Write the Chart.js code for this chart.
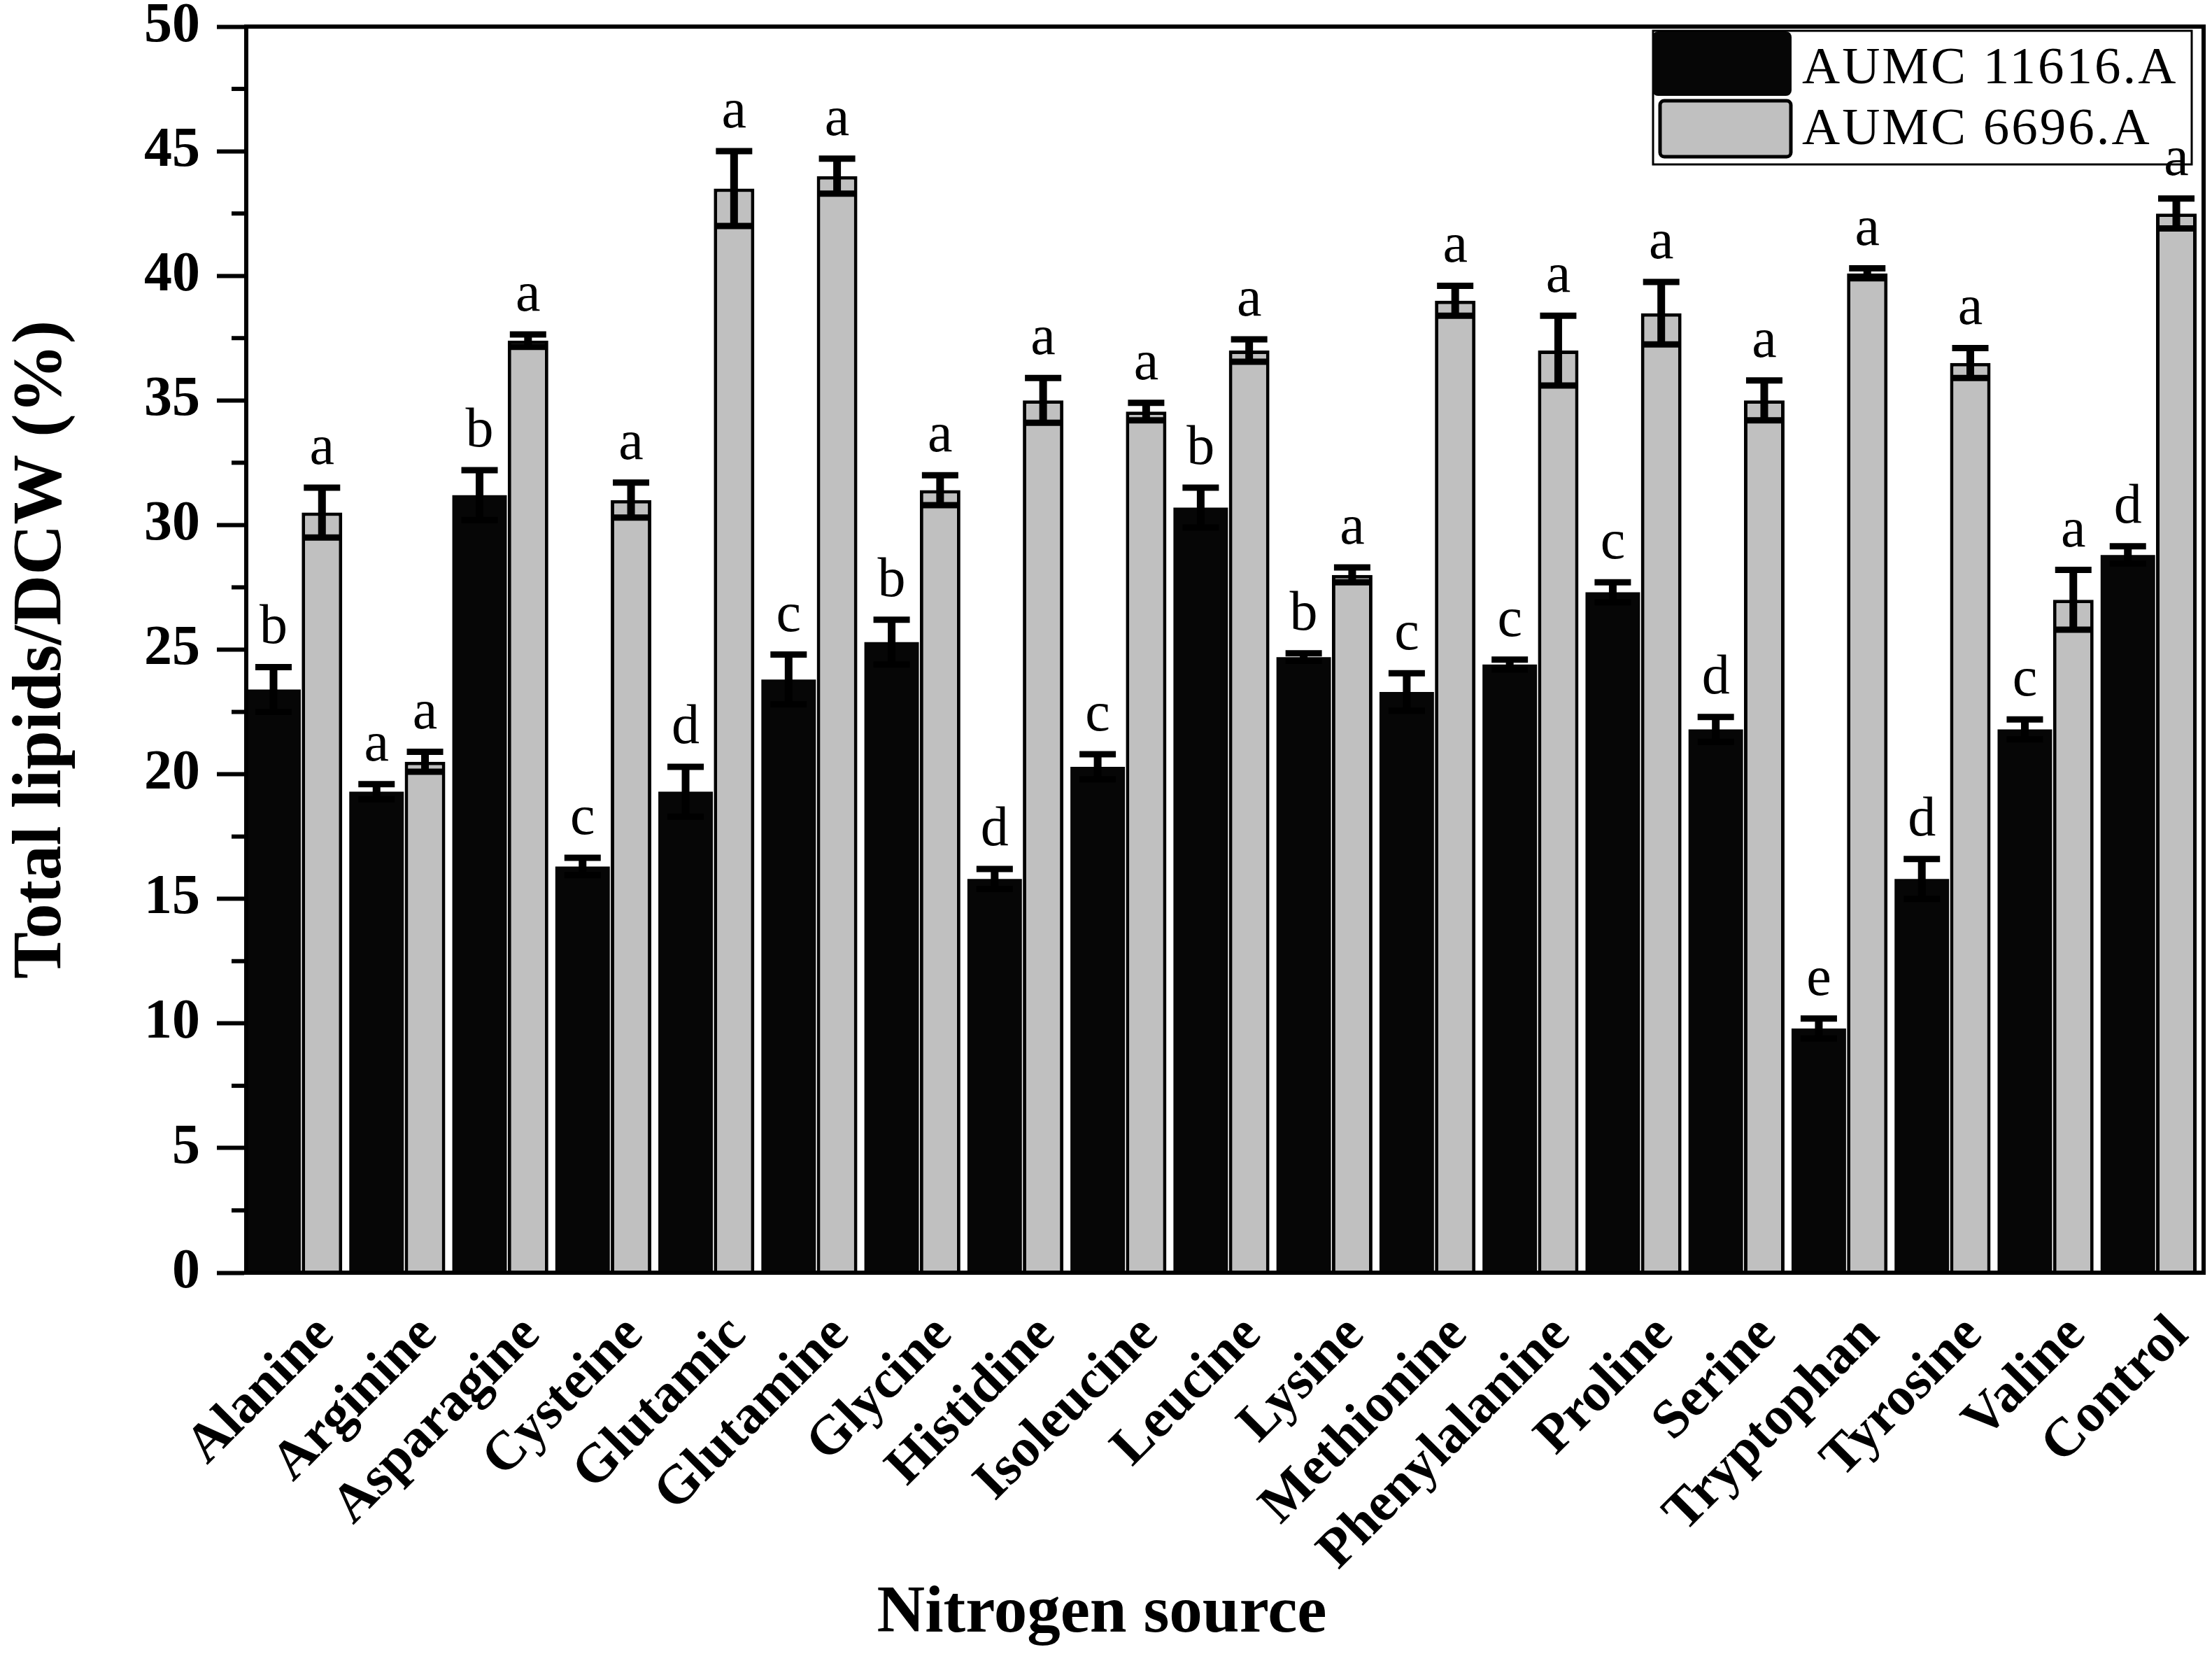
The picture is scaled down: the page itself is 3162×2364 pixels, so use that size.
<!DOCTYPE html>
<html>
<head>
<meta charset="utf-8">
<script src="https://cdn.jsdelivr.net/npm/chart.js@4.4.1/dist/chart.umd.min.js"></script>
<style>
html,body{margin:0;padding:0;background:#fff;}
#wrap{width:3162px;height:2364px;position:relative;}
canvas{display:block;}
</style>
</head>
<body>
<div id="wrap"><canvas id="c" width="3162" height="2364"></canvas></div>
<script>
// ---- data ----
const categories = ['Alanine','Arginine','Asparagine','Cysteine','Glutamic','Glutamine','Glycine','Histidine','Isoleucine','Leucine','Lysine','Methionine','Phenylalanine','Proline','Serine','Tryptophan','Tyrosine','Valine','Control'];
const seriesNames = ['AUMC 11616.A','AUMC 6696.A'];
const strain11616 = [23.4, 19.3, 31.2, 16.3, 19.3, 23.8, 25.3, 15.8, 20.3, 30.7, 24.7, 23.3, 24.4, 27.3, 21.8, 9.8, 15.8, 21.8, 28.8];
const strain11616Err = [0.9, 0.3, 1.0, 0.35, 1.0, 1.0, 0.9, 0.4, 0.5, 0.8, 0.15, 0.75, 0.2, 0.4, 0.5, 0.4, 0.8, 0.4, 0.35];
const strain11616Letters = ['b','a','b','c','d','c','b','d','c','b','b','c','c','c','d','e','d','c','d'];
const strain6696 = [30.5, 20.5, 37.4, 31.0, 43.5, 44.0, 31.4, 35.0, 34.55, 37.0, 28.0, 39.0, 37.0, 38.5, 35.0, 40.1, 36.5, 27.0, 42.5];
const strain6696Err = [1.0, 0.4, 0.25, 0.7, 1.5, 0.7, 0.6, 0.9, 0.35, 0.45, 0.3, 0.6, 1.4, 1.25, 0.8, 0.2, 0.6, 1.2, 0.6];
const strain6696Letters = ['a','a','a','a','a','a','a','a','a','a','a','a','a','a','a','a','a','a','a'];
const yMin = 0, yMax = 50, yStep = 5, yMinorStep = 2.5;
const xTitle = 'Nitrogen source';
const yTitle = 'Total lipids/DCW (%)';

const errs = [strain11616Err, strain6696Err];
const letters = [strain11616Letters, strain6696Letters];

const SERIF = '"Liberation Serif", "Times New Roman", serif';
const TITLE_H = 95 * 1.2;

const framePlugin = {
  id: 'frame',
  afterDraw(chart) {
    const {ctx, chartArea: a, scales} = chart;
    const y = scales.y;
    ctx.save();
    ctx.strokeStyle = '#000';
    ctx.lineWidth = 6;
    for (let v = yMin + yMinorStep; v < yMax; v += yStep) {
      const py = y.getPixelForValue(v);
      ctx.beginPath(); ctx.moveTo(a.left - 21, py); ctx.lineTo(a.left, py); ctx.stroke();
    }
    ctx.strokeRect(a.left, a.top, a.right - a.left, a.bottom - a.top);
    ctx.restore();
  }
};

const legendPlugin = {
  id: 'boxLegend',
  afterDatasetsDraw(chart) {
    const {ctx, chartArea: a} = chart;
    const lx = a.right - 787, ly = a.top + 6, w = 770, h = 191;
    ctx.save();
    ctx.fillStyle = '#fff';
    ctx.fillRect(lx, ly, w, h);
    ctx.strokeStyle = '#000';
    ctx.lineWidth = 3;
    ctx.strokeRect(lx, ly, w, h);
    ctx.fillStyle = '#060606';
    ctx.beginPath();
    ctx.roundRect(lx - 1, ly + 1, 199, 92, 8);
    ctx.fill();
    ctx.fillStyle = '#c0c0c0';
    ctx.beginPath();
    ctx.roundRect(lx + 10, ly + 100, 187, 80, 6);
    ctx.fill();
    ctx.lineWidth = 5;
    ctx.stroke();
    ctx.fillStyle = '#000';
    ctx.font = '75px ' + SERIF;
    ctx.textAlign = 'left';
    ctx.textBaseline = 'middle';
    try { ctx.letterSpacing = '3px'; } catch (e) {}
    ctx.fillText(chart.data.datasets[0].label, lx + 213, ly + 55);
    ctx.fillText(chart.data.datasets[1].label, lx + 213, ly + 142);
    ctx.restore();
  }
};

const errorPlugin = {
  id: 'errbars',
  afterDatasetsDraw(chart) {
    const {ctx, scales} = chart;
    const y = scales.y;
    ctx.save();
    chart.data.datasets.forEach((ds, i) => {
      const meta = chart.getDatasetMeta(i);
      meta.data.forEach((bar, j) => {
        const v = ds.data[j], e = errs[i][j];
        const yt = y.getPixelForValue(v + e);
        const yb = y.getPixelForValue(v - e);
        const x = bar.x;
        ctx.strokeStyle = '#000';
        ctx.lineCap = 'butt';
        ctx.lineWidth = 11;
        ctx.beginPath(); ctx.moveTo(x, yb); ctx.lineTo(x, yt); ctx.stroke();
        ctx.lineWidth = 9;
        ctx.beginPath(); ctx.moveTo(x - 26, yt); ctx.lineTo(x + 26, yt); ctx.stroke();
        ctx.beginPath(); ctx.moveTo(x - 26, yb); ctx.lineTo(x + 26, yb); ctx.stroke();
        ctx.fillStyle = '#000';
        ctx.font = '80px ' + SERIF;
        ctx.textAlign = 'center';
        ctx.textBaseline = 'alphabetic';
        ctx.fillText(letters[i][j], x, yt - 34);
      });
    });
    ctx.restore();
  }
};

new Chart(document.getElementById('c').getContext('2d'), {
  type: 'bar',
  data: {
    labels: categories,
    datasets: [
      { label: seriesNames[0], data: strain11616, backgroundColor: '#060606', borderWidth: 0,
        barPercentage: 1.125, categoryPercentage: 0.941 },
      { label: seriesNames[1], data: strain6696, backgroundColor: '#c0c0c0', borderColor: '#000', borderWidth: 5,
        barPercentage: 0.837, categoryPercentage: 0.941 }
    ]
  },
  options: {
    responsive: false,
    animation: false,
    devicePixelRatio: 1,
    layout: { padding: { left: 0, right: 12, top: 38, bottom: 0 } },
    plugins: {
      legend: { display: false },
      tooltip: { enabled: false },
      title: {
        display: true, position: 'bottom', text: xTitle, color: '#000',
        font: { family: SERIF, size: 95, weight: 'bold' },
        padding: { top: 0, bottom: 0 }
      }
    },
    scales: {
      x: {
        grid: { display: false, drawTicks: false },
        border: { display: true, color: '#000', width: 6 },
        ticks: {
          color: '#000', font: { family: SERIF, size: 78, weight: 'bold' },
          maxRotation: 45, minRotation: 45, autoSkip: false, padding: 44, labelOffset: 40
        },
        afterFit(s) { s.height = 2364 - 1819 - TITLE_H; s.paddingLeft = 0; s.paddingRight = 0; }
      },
      y: {
        min: yMin, max: yMax,
        ticks: { stepSize: yStep, color: '#000', font: { family: SERIF, size: 80, weight: 'bold' }, padding: 24 },
        grid: { drawOnChartArea: false, drawTicks: true, tickLength: 42, tickWidth: 6, tickColor: '#000' },
        border: { display: true, color: '#000', width: 6 },
        title: { display: true, text: yTitle, color: '#000', font: { family: SERIF, size: 100, weight: 'bold' }, padding: { top: 0, bottom: 0 } },
        afterFit(s) { s.width = 352; s.paddingTop = 0; s.paddingBottom = 0; }
      }
    }
  },
  plugins: [framePlugin, legendPlugin, errorPlugin]
});
</script>
</body>
</html>
